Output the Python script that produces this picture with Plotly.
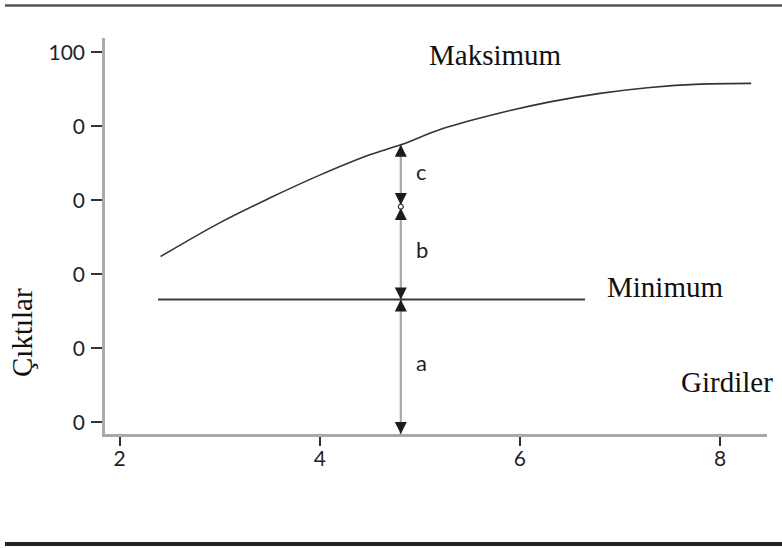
import plotly.graph_objects as go

# Output curve (inputs vs. outputs)
curve_x = [2.41, 3.0, 3.5, 4.0, 4.5, 4.81, 5.23, 5.8, 6.3, 6.8, 7.3, 7.8, 8.31]
curve_y = [44.8, 53.9, 60.6, 66.8, 72.3, 75.0, 79.4, 83.6, 86.6, 88.9, 90.5, 91.4, 91.6]

# Minimum level line
min_level = 33.2
min_x = [2.385, 6.65]

# Vertical measurement at one input value
arrow_x = 4.81
split_level = 58.3          # boundary between b and c
split_gap = 0.4

# Axis ticks
x_ticks = [2, 4, 6, 8]
x_tick_text = ["2", "4", "6", "8"]
y_ticks = [0, 20, 40, 60, 80, 100]
y_tick_text = ["0", "0", "0", "0", "0", "100"]

x_range = [1.855, 8.468]
y_range = [-3.16, 103.86]

top_level = curve_y[curve_x.index(arrow_x)]
floor = y_range[0]

W, H = 782, 548
ML, MR, MT, MB = 105, 15, 38, 114
PW, PH = W - ML - MR, H - MT - MB


def px(xp):
    return (xp - ML) / PW


def py(yp):
    return (H - MB - yp) / PH


serif = "Liberation Serif, Times New Roman, serif"
sans = "Lato, DejaVu Sans, sans-serif"
ink = "#1f1f2c"

fig = go.Figure()

# vertical gray measuring line
fig.add_trace(go.Scatter(x=[arrow_x, arrow_x], y=[floor, top_level], mode="lines",
                         line=dict(color="#a9a9a9", width=2.2), hoverinfo="skip"))

# minimum line
fig.add_trace(go.Scatter(x=min_x, y=[min_level, min_level], mode="lines",
                         line=dict(color="#3a3a3a", width=2), hoverinfo="skip"))

# output curve
fig.add_trace(go.Scatter(x=curve_x, y=curve_y, mode="lines", line_shape="spline",
                         line=dict(color="#333333", width=1.6), hoverinfo="skip"))

# arrow heads (apex at the point)
up_y = [top_level, split_level - split_gap, min_level]
down_y = [split_level + split_gap, min_level, floor]
fig.add_trace(go.Scatter(x=[arrow_x] * 3, y=up_y, mode="markers",
                         marker=dict(symbol="arrow-up", size=12, color="#1c1c1c"),
                         hoverinfo="skip", cliponaxis=False))
fig.add_trace(go.Scatter(x=[arrow_x] * 3, y=down_y, mode="markers",
                         marker=dict(symbol="arrow-down", size=12, color="#1c1c1c"),
                         hoverinfo="skip", cliponaxis=False))
fig.add_trace(go.Scatter(x=[arrow_x], y=[split_level], mode="markers",
                         marker=dict(symbol="circle", size=5, color="white",
                                     line=dict(color="#333333", width=1.2)),
                         hoverinfo="skip"))

# segment letters
segments = [("a", floor, min_level), ("b", min_level, split_level), ("c", split_level, top_level)]
for name, lo, hi in segments:
    fig.add_annotation(x=arrow_x, y=(lo + hi) / 2, text=name, showarrow=False,
                       xshift=21, yshift=4, font=dict(family=sans, size=22, color=ink))

# labels
labels = [("Maksimum", 5.756, 99.3), ("Minimum", 7.45, 36.6), ("Girdiler", 8.07, 10.9)]
for txt, lx, ly in labels:
    fig.add_annotation(x=lx, y=ly, text=txt, showarrow=False,
                       font=dict(family=serif, size=29, color="#111111"))

fig.add_annotation(xref="paper", yref="paper", x=px(22), y=py(333), text="Çıktılar",
                   textangle=-90, showarrow=False, xanchor="center", yanchor="middle",
                   font=dict(family=serif, size=29, color="#111111"))

# horizontal rules framing the figure
fig.add_shape(type="line", xref="paper", yref="paper", x0=px(5), x1=px(782),
              y0=py(5.5), y1=py(5.5), line=dict(color="#555555", width=2.5))
fig.add_shape(type="line", xref="paper", yref="paper", x0=px(5), x1=px(782),
              y0=py(544), y1=py(544), line=dict(color="#222222", width=4))

axis_common = dict(showline=True, linecolor="#a9a9a9", linewidth=2.5, ticks="outside",
                   tickcolor="#333333", tickwidth=1.5, showgrid=False, zeroline=False,
                   tickfont=dict(family=sans, size=21, color=ink))

fig.update_xaxes(range=x_range, tickvals=x_ticks, ticktext=x_tick_text, ticklen=9,
                 ticklabelstandoff=-5, **axis_common)
fig.update_yaxes(range=y_range, tickvals=y_ticks, ticktext=y_tick_text, ticklen=11,
                 ticklabelstandoff=2, **axis_common)

fig.update_layout(width=W, height=H, margin=dict(l=ML, r=MR, t=MT, b=MB),
                  plot_bgcolor="white", paper_bgcolor="white", showlegend=False)

fig.write_html("out.html")
